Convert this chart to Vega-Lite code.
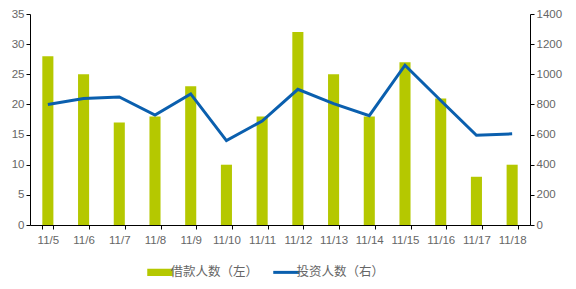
{
  "$schema": "https://vega.github.io/schema/vega-lite/v6.json",
  "width": 500,
  "height": 211,
  "padding": {"left": 11, "top": 8, "right": 5, "bottom": 5},
  "autosize": {"type": "pad"},
  "background": "white",
  "data": {"values": [
    {"date": "11/5", "borrowers": 28, "investors": 800},
    {"date": "11/6", "borrowers": 25, "investors": 840},
    {"date": "11/7", "borrowers": 17, "investors": 850},
    {"date": "11/8", "borrowers": 18, "investors": 730},
    {"date": "11/9", "borrowers": 23, "investors": 870},
    {"date": "11/10", "borrowers": 10, "investors": 560},
    {"date": "11/11", "borrowers": 18, "investors": 690},
    {"date": "11/12", "borrowers": 32, "investors": 900},
    {"date": "11/13", "borrowers": 25, "investors": 805},
    {"date": "11/14", "borrowers": 18, "investors": 725},
    {"date": "11/15", "borrowers": 27, "investors": 1060},
    {"date": "11/16", "borrowers": 21, "investors": 826},
    {"date": "11/17", "borrowers": 8, "investors": 595},
    {"date": "11/18", "borrowers": 10, "investors": 605}
  ]},
  "encoding": {
    "x": {
      "field": "date", "type": "nominal", "sort": null,
      "scale": {"paddingInner": 0.69, "paddingOuter": 0.345},
      "axis": {"title": null, "labelAngle": 0, "tickBand": "extent", "tickSize": 4, "labelPadding": 5}
    }
  },
  "layer": [
    {
      "mark": {"type": "bar"},
      "encoding": {
        "y": {
          "field": "borrowers", "type": "quantitative",
          "scale": {"domain": [0, 35], "nice": false},
          "axis": {"title": null, "orient": "left", "values": [0, 5, 10, 15, 20, 25, 30, 35]}
        },
        "color": {
          "datum": "借款人数（左）",
          "scale": {"domain": ["借款人数（左）", "投资人数（右）"], "range": ["#b5c800", "#0a5fae"]},
          "legend": {
            "title": null, "orient": "none", "direction": "horizontal",
            "legendX": 124, "legendY": 252,
            "symbolSize": 676, "labelFontSize": 12.5, "labelColor": "#666",
            "labelFont": "Noto Sans CJK SC", "columnPadding": 8, "labelOffset": 4,
            "encode": {
              "symbols": {"update": {
                "shape": {"signal": "datum.value === '借款人数（左）' ? 'M-1,-0.28H1V0.28H-1Z' : 'M-1,0H1'"},
                "fill": {"signal": "datum.value === '借款人数（左）' ? '#b5c800' : 'transparent'"},
                "stroke": {"signal": "datum.value === '借款人数（左）' ? 'transparent' : '#0a5fae'"},
                "strokeWidth": {"signal": "datum.value === '借款人数（左）' ? 0 : 3"},
                "opacity": {"value": 1}
              }}
            }
          }
        }
      }
    },
    {
      "mark": {"type": "line", "strokeWidth": 3},
      "encoding": {
        "y": {
          "field": "investors", "type": "quantitative",
          "scale": {"domain": [0, 1400], "nice": false},
          "axis": {"title": null, "orient": "right", "format": "d", "values": [0, 200, 400, 600, 800, 1000, 1200, 1400]}
        },
        "color": {"datum": "投资人数（右）"}
      }
    }
  ],
  "resolve": {"scale": {"y": "independent"}},
  "config": {
    "view": {"stroke": null},
    "font": "Liberation Sans",
    "axis": {
      "grid": false, "domainColor": "#000", "tickColor": "#000", "tickSize": 4,
      "labelColor": "#666", "labelFontSize": 11.5, "labelFont": "Liberation Sans"
    }
  }
}
